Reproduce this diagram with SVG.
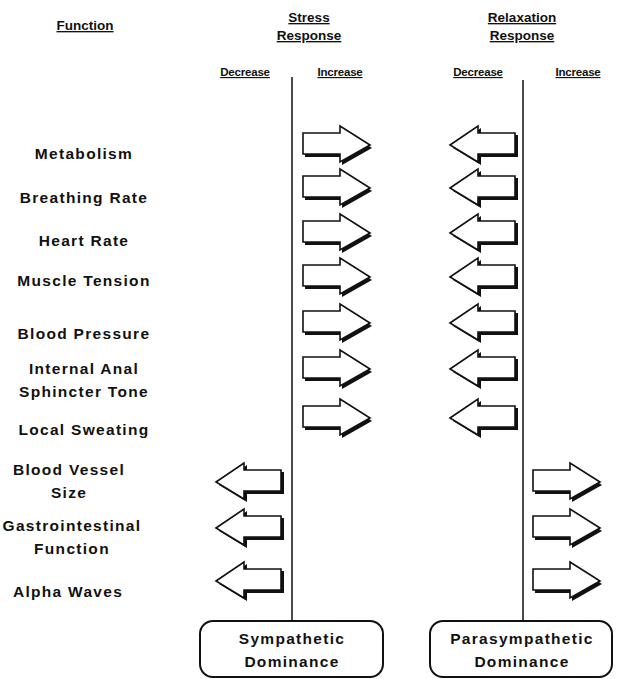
<svg xmlns="http://www.w3.org/2000/svg" width="618" height="679" viewBox="0 0 618 679">
<defs>
<style>
.lbl{font-family:"Liberation Sans",Arial,sans-serif;font-size:15.5px;font-weight:bold;letter-spacing:1.3px;fill:#111;text-anchor:middle}
.hd{font-family:"Liberation Sans",Arial,sans-serif;font-size:13.5px;font-weight:bold;fill:#111;text-anchor:middle;text-decoration:underline}
.sm{font-family:"Liberation Sans",Arial,sans-serif;font-size:11.5px;font-weight:bold;fill:#111;text-anchor:middle;text-decoration:underline;letter-spacing:-0.2px}
.ln{stroke:#111;stroke-width:1.5;fill:none}
.box{fill:#fff;stroke:#111;stroke-width:2}
.sh{fill:#111}
.ar{fill:#fff;stroke:#111;stroke-width:1.6;stroke-linejoin:miter}
</style>
<g id="rShape"><polygon class="sh" points="2,-9 39,-9 39,-16 69,4 39,21 39,13 2,13"/><polygon class="ar" points="0,-11 37,-11 37,-18 67,1 37,18 37,10 0,10"/></g>
<g id="lShape"><polygon class="sh" points="3,4 31,-16 31,-9 68,-9 68,13 31,13 31,21"/><polygon class="ar" points="0,1 28,-18 28,-11 65,-11 65,10 28,10 28,18"/></g>
</defs>
<rect width="618" height="679" fill="#fff"/>
<g id="headers">
<text class="hd" x="85" y="30">Function</text>
<text class="hd" x="309" y="22">Stress</text>
<text class="hd" x="309" y="40">Response</text>
<text class="hd" x="522" y="22">Relaxation</text>
<text class="hd" x="522" y="40">Response</text>
<text class="sm" x="245" y="76">Decrease</text>
<text class="sm" x="340" y="76">Increase</text>
<text class="sm" x="478" y="76">Decrease</text>
<text class="sm" x="578" y="76">Increase</text>
</g>
<g id="labels">
<text class="lbl" x="84" y="159">Metabolism</text>
<text class="lbl" x="84" y="203">Breathing Rate</text>
<text class="lbl" x="84" y="246">Heart Rate</text>
<text class="lbl" x="84" y="286">Muscle Tension</text>
<text class="lbl" x="84" y="339">Blood Pressure</text>
<text class="lbl" x="84" y="374">Internal Anal</text>
<text class="lbl" x="84" y="397">Sphincter Tone</text>
<text class="lbl" x="84" y="435">Local Sweating</text>
<text class="lbl" x="69" y="475">Blood Vessel</text>
<text class="lbl" x="69" y="498">Size</text>
<text class="lbl" x="72" y="531">Gastrointestinal</text>
<text class="lbl" x="72" y="554">Function</text>
<text class="lbl" x="68" y="597">Alpha Waves</text>
</g>
<g id="connectors">
<line class="ln" x1="292" y1="77" x2="292" y2="621"/>
<line class="ln" x1="523" y1="80" x2="523" y2="621"/>
</g>
<g id="stress-increase">
<use href="#rShape" x="303" y="144"/>
<use href="#rShape" x="303" y="187"/>
<use href="#rShape" x="303" y="232"/>
<use href="#rShape" x="303" y="276"/>
<use href="#rShape" x="303" y="322"/>
<use href="#rShape" x="303" y="368"/>
<use href="#rShape" x="303" y="417"/>
</g>
<g id="relax-decrease">
<use href="#lShape" x="450" y="144"/>
<use href="#lShape" x="450" y="187"/>
<use href="#lShape" x="450" y="232"/>
<use href="#lShape" x="450" y="276"/>
<use href="#lShape" x="450" y="322"/>
<use href="#lShape" x="450" y="368"/>
<use href="#lShape" x="450" y="417"/>
</g>
<g id="stress-decrease">
<use href="#lShape" x="216" y="481"/>
<use href="#lShape" x="216" y="527"/>
<use href="#lShape" x="216" y="580"/>
</g>
<g id="relax-increase">
<use href="#rShape" x="533" y="481"/>
<use href="#rShape" x="533" y="527"/>
<use href="#rShape" x="533" y="580"/>
</g>
<g id="sympathetic">
<rect class="box" x="200" y="621" width="183" height="56" rx="13"/>
<text class="lbl" x="292" y="644">Sympathetic</text>
<text class="lbl" x="292" y="667">Dominance</text>
</g>
<g id="parasympathetic">
<rect class="box" x="430" y="621" width="182" height="56" rx="13"/>
<text class="lbl" x="522" y="644">Parasympathetic</text>
<text class="lbl" x="522" y="667">Dominance</text>
</g>
</svg>
